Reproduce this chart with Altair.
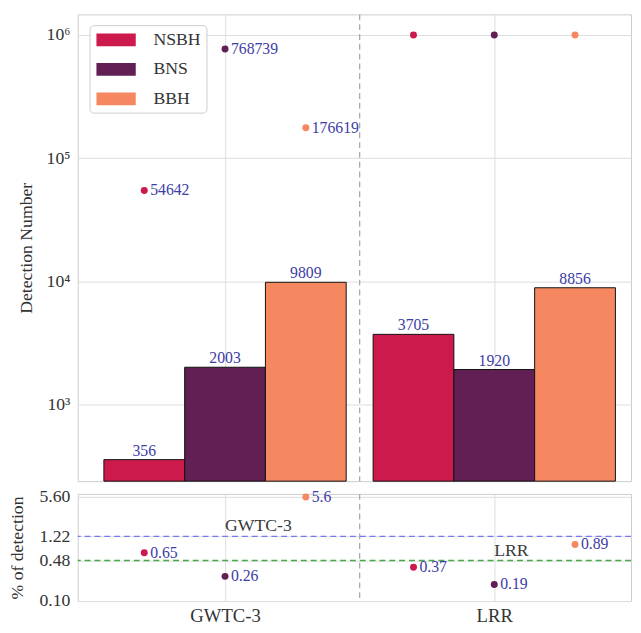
import altair as alt
import pandas as pd

# ---- data ----
catalogs = ["GWTC-3", "LRR"]
types = ["NSBH", "BNS", "BBH"]
colors = ["#cc1a4c", "#611f53", "#f58860"]

bar_gwtc = [356, 2003, 9809]
bar_lrr = [3705, 1920, 8856]
pt_gwtc = [54642, 768739, 176619]
pt_lrr = [1000000, 1000000, 1000000]
pt_gwtc_labels = ["54642", "768739", "176619"]
pt_lrr_labels = ["", "", ""]

pct_gwtc = [0.65, 0.26, 5.6]
pct_lrr = [0.37, 0.19, 0.89]
pct_gwtc_labels = ["0.65", "0.26", "5.6"]
pct_lrr_labels = ["0.37", "0.19", "0.89"]

ref_names = ["GWTC-3", "LRR"]
ref_values = [1.22, 0.48]
ref_colors = ["#7878ee", "#4aa84a"]

pct_ticks = [0.10, 0.48, 1.22, 5.60]
count_ticks = [1e3, 1e4, 1e5, 1e6]

offsets = [-0.3, 0.0, 0.3]
bar_w = 0.3

rows = []
for ci, (bars, pts, plabs, pcts, pclabs) in enumerate([
        (bar_gwtc, pt_gwtc, pt_gwtc_labels, pct_gwtc, pct_gwtc_labels),
        (bar_lrr, pt_lrr, pt_lrr_labels, pct_lrr, pct_lrr_labels)]):
    for ti, t in enumerate(types):
        xp = ci + offsets[ti]
        rows.append(dict(catalog=catalogs[ci], type=t, xpos=xp,
                         x1=xp - bar_w / 2, x2=xp + bar_w / 2,
                         count=bars[ti], count_label=str(bars[ti]),
                         extra=pts[ti], extra_label=plabs[ti],
                         pct=pcts[ti], pct_label=pclabs[ti]))
df = pd.DataFrame(rows)
refs = pd.DataFrame(dict(name=ref_names, value=ref_values, color=ref_colors,
                         xpos=[0, 1]))
divider = pd.DataFrame(dict(x=[0.5]))

FONT = "Liberation Serif"
TXT_BLUE = "#3d3da6"
W = 563
XDOM = [-0.547, 1.508]
YMIN_TOP = 238

color_scale = alt.Scale(domain=types, range=colors)
xscale = alt.Scale(domain=XDOM, nice=False, zero=False)

yscale_top = alt.Scale(type="log", domain=[YMIN_TOP, 1.47e6], nice=False)
sup = ("'10' + replace(replace(replace(replace(toString(round(log(datum.value)/LN10)),"
       "'3','³'),'4','⁴'),'5','⁵'),'6','⁶')")
y_top_axis = alt.Axis(values=count_ticks, labelExpr=sup, title="Detection Number",
                      ticks=False, domain=False, labelPadding=8, titlePadding=11,
                      labelFontSize=18, titleFontSize=18, grid=True)

base_top = alt.Chart(df)

bars = base_top.mark_bar(stroke="#111111", strokeWidth=1).encode(
    x=alt.X("x1:Q", scale=xscale,
            axis=alt.Axis(values=[0, 1], labels=False, ticks=False,
                          domain=False, title=None, grid=True)),
    x2="x2:Q",
    y=alt.Y("count:Q", scale=yscale_top, axis=y_top_axis),
    y2=alt.datum(YMIN_TOP),
    color=alt.Color("type:N", scale=color_scale,
                    sort=types,
                    legend=alt.Legend(title=None, orient="none", legendX=12, legendY=11,
                                      symbolType="M-2,-0.65H2V0.65H-2Z",
                                      symbolSize=400, symbolStrokeWidth=0,
                                      symbolOffset=12,
                                      labelFontSize=18, labelFont=FONT,
                                      labelColor="#333333", labelOffset=28,
                                      rowPadding=11, padding=5,
                                      fillColor="white", strokeColor="#cccccc",
                                      cornerRadius=4)),
)

bar_text = base_top.mark_text(baseline="bottom", dy=-1, fontSize=16, font=FONT,
                              color=TXT_BLUE).encode(
    x=alt.X("xpos:Q", scale=xscale),
    y=alt.Y("count:Q", scale=yscale_top),
    text="count_label:N",
)

pts = base_top.mark_circle(size=50, opacity=1).encode(
    x=alt.X("xpos:Q", scale=xscale),
    y=alt.Y("extra:Q", scale=yscale_top),
    color=alt.Color("type:N", scale=color_scale, legend=None),
)

pt_text = base_top.transform_filter("datum.extra_label != ''").mark_text(
    align="left", baseline="middle", dx=6, fontSize=16, font=FONT,
    color=TXT_BLUE).encode(
    x=alt.X("xpos:Q", scale=xscale),
    y=alt.Y("extra:Q", scale=yscale_top),
    text="extra_label:N",
)

div_top = alt.Chart(divider).mark_rule(color="#aaaaaa", strokeDash=[6, 4],
                                       strokeWidth=1.3).encode(
    x=alt.X("x:Q", scale=xscale))

top = alt.layer(bars, div_top, bar_text, pts, pt_text).properties(width=W, height=475)

# ---- bottom panel ----
yscale_bot = alt.Scale(type="log", domain=[0.1, 6.3], nice=False)
y_bot_axis = alt.Axis(values=pct_ticks, format=".2f", title="% of detection",
                      ticks=False, domain=False, labelPadding=8, titlePadding=13,
                      labelFontSize=18, titleFontSize=18, grid=True)
x_bot_axis = alt.Axis(values=[0, 1], labelExpr="datum.value == 0 ? 'GWTC-3' : 'LRR'",
                      ticks=False, domain=False, title=None, grid=True,
                      labelFontSize=19, labelPadding=6)

base_bot = alt.Chart(df)
bpts = base_bot.mark_circle(size=50, opacity=1).encode(
    x=alt.X("xpos:Q", scale=xscale, axis=x_bot_axis),
    y=alt.Y("pct:Q", scale=yscale_bot, axis=y_bot_axis),
    color=alt.Color("type:N", scale=color_scale, legend=None),
)
bpt_text = base_bot.mark_text(align="left", baseline="middle", dx=6, fontSize=16,
                              font=FONT, color=TXT_BLUE).encode(
    x=alt.X("xpos:Q", scale=xscale),
    y=alt.Y("pct:Q", scale=yscale_bot),
    text="pct_label:N",
)
ref_lines = alt.Chart(refs).mark_rule(strokeDash=[6, 4], strokeWidth=1.4).encode(
    y=alt.Y("value:Q", scale=yscale_bot),
    color=alt.Color("color:N", scale=None),
)
ref_text = alt.Chart(refs).mark_text(align="left", baseline="bottom", dy=-1,
                                     fontSize=18, font=FONT, color="#3a3a3a").encode(
    x=alt.X("xpos:Q", scale=xscale),
    y=alt.Y("value:Q", scale=yscale_bot),
    text="name:N",
)
div_bot = alt.Chart(divider).mark_rule(color="#aaaaaa", strokeDash=[6, 4],
                                       strokeWidth=1.3).encode(
    x=alt.X("x:Q", scale=xscale))

bottom = alt.layer(div_bot, ref_lines, ref_text, bpts, bpt_text).properties(
    width=W, height=109)

chart = alt.vconcat(top, bottom, spacing=4).properties(
    padding={"left": 0, "top": -1, "right": 0, "bottom": 0}
).configure_view(stroke="#cccccc", strokeWidth=1).configure_axis(
    labelFont=FONT, titleFont=FONT, labelColor="#333333", titleColor="#333333",
    titleFontWeight="normal", gridColor="#dddddd", gridWidth=1
).configure_text(font=FONT)

chart.save("out.html", embed_options={"renderer": "svg", "actions": False})
